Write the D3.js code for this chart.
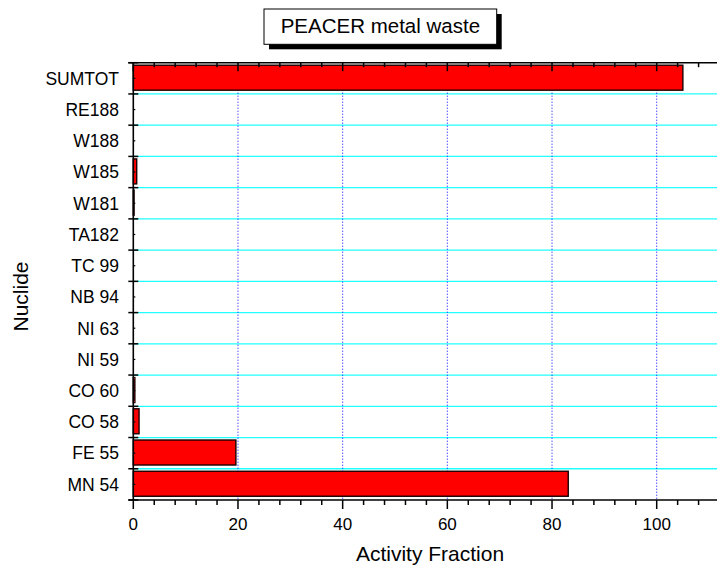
<!DOCTYPE html>
<html>
<head>
<meta charset="utf-8">
<script src="https://cdn.jsdelivr.net/npm/d3@7"></script>
<style>
  html, body { margin: 0; padding: 0; background: #fff; }
  svg { display: block; }
  text { font-family: "Liberation Sans", Arial, sans-serif; fill: #000; }
</style>
</head>
<body>
<svg id="chart" width="717" height="567"></svg>
<script>
// ---- data ----
const categories = ["SUMTOT", "RE188", "W188", "W185", "W181", "TA182", "TC 99",
                    "NB 94", "NI 63", "NI 59", "CO 60", "CO 58", "FE 55", "MN 54"];
const values = [105.0, 0, 0, 0.65, 0.15, 0, 0, 0, 0, 0, 0.3, 1.1, 19.6, 83.1];
const xTickValues = [0, 20, 40, 60, 80, 100];
const titleText = "PEACER metal waste";
const xTitle = "Activity Fraction";
const yTitle = "Nuclide";

(function () {
// ---- layout ----
const W = 717, H = 567;
const pLeft = 133.3, pTop = 62.7, pBottom = 500;
const svg = d3.select("#chart");

const x = d3.scaleLinear().domain([0, 112]).range([pLeft, pLeft + 112 * 5.234]);
const y = d3.scaleBand().domain(categories).range([pTop, pBottom]).padding(0);
const bw = y.bandwidth();

const data = categories.map((c, i) => ({ name: c, value: values[i] }));

// horizontal cyan gridlines at band boundaries
const boundaries = categories.slice(1).map(c => y(c));
svg.append("g").selectAll("line").data(boundaries).join("line")
  .attr("x1", pLeft).attr("x2", W)
  .attr("y1", d => d).attr("y2", d => d)
  .attr("stroke", "#22ffff").attr("stroke-width", 1.3);

// vertical blue dotted gridlines
svg.append("g").selectAll("line").data(xTickValues.filter(v => v > 0)).join("line")
  .attr("x1", d => x(d)).attr("x2", d => x(d))
  .attr("y1", pTop).attr("y2", pBottom)
  .attr("stroke", "#0000ff").attr("stroke-width", 1)
  .attr("stroke-dasharray", "1,2");

// bars
const barInsetTop = bw * 0.08, barH = bw * 0.8;
svg.append("g").selectAll("rect").data(data.filter(d => d.value > 0)).join("rect")
  .attr("x", x(0))
  .attr("y", d => y(d.name) + barInsetTop)
  .attr("width", d => x(d.value) - x(0))
  .attr("height", barH)
  .attr("fill", "#ff0000")
  .attr("stroke", "#1a0000").attr("stroke-width", 1.4);

// bottom x axis
const minorTicks = d3.range(0, 112, 4);
const gB = svg.append("g");
gB.append("line").attr("x1", pLeft - 5).attr("x2", W).attr("y1", pBottom).attr("y2", pBottom)
  .attr("stroke", "#000").attr("stroke-width", 1.5);
gB.selectAll("line.minor").data(minorTicks.filter(v => v % 20 !== 0)).join("line")
  .attr("class", "minor")
  .attr("x1", d => x(d)).attr("x2", d => x(d))
  .attr("y1", pBottom).attr("y2", pBottom + 5)
  .attr("stroke", "#000").attr("stroke-width", 1.5);
gB.selectAll("line.major").data(xTickValues).join("line")
  .attr("class", "major")
  .attr("x1", d => x(d)).attr("x2", d => x(d))
  .attr("y1", pBottom).attr("y2", pBottom + 9)
  .attr("stroke", "#000").attr("stroke-width", 1.5);
gB.selectAll("text").data(xTickValues).join("text")
  .attr("x", d => x(d)).attr("y", 529.5)
  .attr("text-anchor", "middle")
  .attr("font-size", 17)
  .text(d => d);

// top axis
const gT = svg.append("g");
gT.append("line").attr("x1", pLeft - 5).attr("x2", W).attr("y1", pTop).attr("y2", pTop)
  .attr("stroke", "#000").attr("stroke-width", 1.5);
gT.selectAll("line.minor").data(minorTicks.filter(v => v % 20 !== 0)).join("line")
  .attr("class", "minor")
  .attr("x1", d => x(d)).attr("x2", d => x(d))
  .attr("y1", pTop).attr("y2", pTop + 4.5)
  .attr("stroke", "#000").attr("stroke-width", 1.5);
gT.selectAll("line.major").data(xTickValues).join("line")
  .attr("class", "major")
  .attr("x1", d => x(d)).attr("x2", d => x(d))
  .attr("y1", pTop).attr("y2", pTop + 8.5)
  .attr("stroke", "#000").attr("stroke-width", 1.5);

// left y axis
const gL = svg.append("g");
gL.append("line").attr("x1", pLeft).attr("x2", pLeft).attr("y1", pTop).attr("y2", pBottom)
  .attr("stroke", "#000").attr("stroke-width", 1.6);
const allBounds = [pTop].concat(boundaries).concat([pBottom]);
gL.selectAll("line.major").data(allBounds).join("line")
  .attr("class", "major")
  .attr("x1", pLeft - 5).attr("x2", pLeft + 5)
  .attr("y1", d => d).attr("y2", d => d)
  .attr("stroke", "#000").attr("stroke-width", 1.5);
gL.selectAll("line.minor").data(categories).join("line")
  .attr("class", "minor")
  .attr("x1", pLeft).attr("x2", pLeft + 2)
  .attr("y1", d => y(d) + bw / 2).attr("y2", d => y(d) + bw / 2)
  .attr("stroke", "#000").attr("stroke-width", 1.2);
gL.selectAll("text").data(categories).join("text")
  .attr("x", 119).attr("y", d => y(d) + bw / 2)
  .attr("dy", "0.36em")
  .attr("text-anchor", "end")
  .attr("font-size", 17.5)
  .text(d => d);

// axis titles
svg.append("text")
  .attr("x", 430).attr("y", 561)
  .attr("text-anchor", "middle")
  .attr("font-size", 21)
  .text(xTitle);
svg.append("text")
  .attr("transform", "translate(28,296.5) rotate(-90)")
  .attr("text-anchor", "middle")
  .attr("font-size", 21)
  .text(yTitle);

// title box with shadow
const bx = 264, by = 9, bwid = 232.7, bht = 35.3;
svg.append("rect").attr("x", bx + 5).attr("y", by + 5).attr("width", bwid).attr("height", bht)
  .attr("fill", "#000");
svg.append("rect").attr("x", bx).attr("y", by).attr("width", bwid).attr("height", bht)
  .attr("fill", "#fff").attr("stroke", "#000").attr("stroke-width", 1);
svg.append("text")
  .attr("x", bx + bwid / 2).attr("y", 33.3)
  .attr("text-anchor", "middle")
  .attr("font-size", 20.5)
  .text(titleText);
})();
</script>
</body>
</html>
